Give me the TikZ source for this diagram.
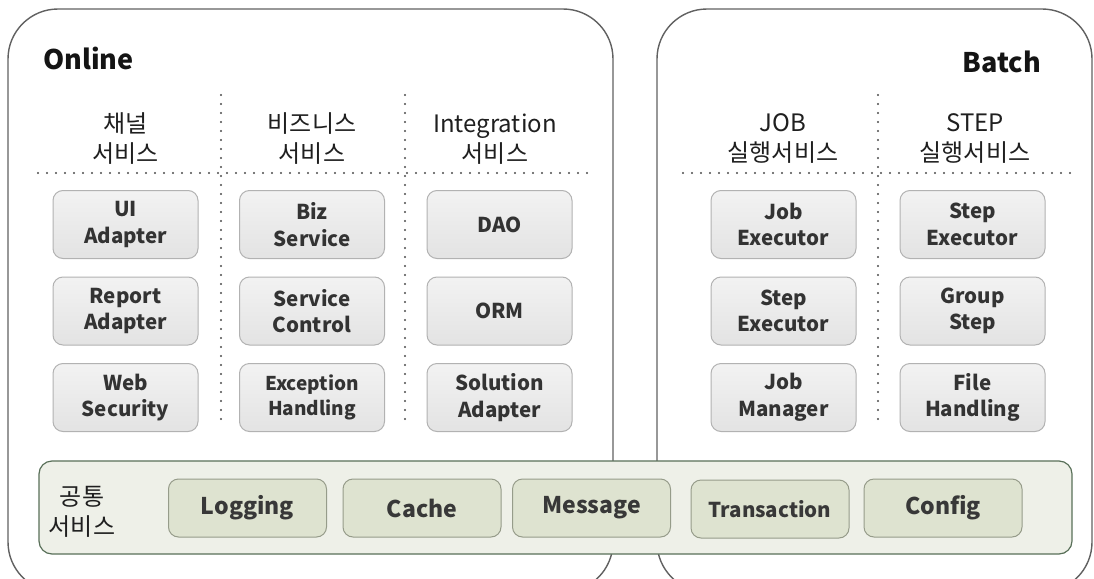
\documentclass[tikz,border=0pt]{standalone}
\usepackage{fontspec}
\setmainfont{Noto Sans CJK KR}
\begin{document}
\begin{tikzpicture}[x=1pt,y=-1pt,
  outerbox/.style={draw=black!62, line width=1.4pt, rounded corners=50pt, inner sep=0pt},
  compbox/.style={draw=black!30, line width=1pt, rounded corners=10pt, top color=black!5, bottom color=black!11,
     minimum width=145pt, minimum height=68pt, inner sep=0pt, align=center,
     font=\fontsize{20.5}{26.5}\selectfont\bfseries, text=black!80},
  bar/.style={draw=black!70!green!30!gray, line width=1.2pt, rounded corners=13pt, fill={rgb,255:red,238;green,240;blue,232},
     minimum width=1033pt, minimum height=93pt, inner sep=0pt},
  citem/.style={draw={rgb,255:red,150;green,156;blue,138}, line width=1pt, rounded corners=10pt,
     fill={rgb,255:red,222;green,227;blue,208}, minimum width=158pt, minimum height=58pt, inner sep=0pt,
     font=\fontsize{23}{27}\selectfont\bfseries, text=black!78},
  header/.style={align=center, font=\fontsize{24}{30}\selectfont, text=black!88, inner sep=0pt},
  title/.style={font=\fontsize{27}{30}\selectfont\bfseries, text=black!92, inner sep=0pt},
  dots/.style={draw=black!70, line width=2.2pt, line cap=round, dash pattern=on 0pt off 9pt}
]
\useasboundingbox (0,0) rectangle (1094,578);
\clip (0,0) rectangle (1094,578);
\fill[white] (0,0) rectangle (1094,578);

% outer boxes
\node[outerbox, minimum width=605pt, minimum height=583pt] (online) at (310.5,300.5) {};
\node[outerbox, minimum width=435pt, minimum height=583pt] (batch) at (874.5,300.5) {};

% titles
\node[title, anchor=west] (tonline) at (43,58) {Online};
\node[title, anchor=east] (tbatch) at (1041,62) {Batch};

% dotted separators
\draw[dots] (221,95) -- (221,425);
\draw[dots] (405,95) -- (405,425);
\draw[dots] (878,95) -- (878,425);
\draw[dots] (38,173) -- (590,173);
\draw[dots] (683,173) -- (1076,173);

% headers
\node[header] (h1) at (125.5,139) {채널\\서비스};
\node[header] (h2) at (312,139) {비즈니스\\서비스};
\node[header] (h3) at (495,139) {Integration\\서비스};
\node[header] (h4) at (783,138) {JOB\\실행서비스};
\node[header] (h5) at (975,138) {STEP\\실행서비스};

% online components
\node[compbox] (ui) at (125.5,224.5) {UI\\Adapter};
\node[compbox] (report) at (125.5,311) {Report\\Adapter};
\node[compbox] (web) at (125.5,397.5) {Web\\Security};
\node[compbox] (biz) at (312,224.5) {Biz\\Service};
\node[compbox] (svc) at (312,311) {Service\\Control};
\node[compbox, font=\fontsize{19}{25}\selectfont\bfseries] (exc) at (312,397.5) {Exception\\Handling};
\node[compbox] (dao) at (499.5,224.5) {DAO};
\node[compbox] (orm) at (499.5,311) {ORM};
\node[compbox] (sol) at (499.5,397.5) {Solution\\Adapter};

% batch components
\node[compbox] (jobexec) at (783.5,224.5) {Job\\Executor};
\node[compbox] (stepexec1) at (783.5,311) {Step\\Executor};
\node[compbox] (jobmgr) at (783.5,397.5) {Job\\Manager};
\node[compbox] (stepexec2) at (972.5,224.5) {Step\\Executor};
\node[compbox] (group) at (972.5,311) {Group\\Step};
\node[compbox] (file) at (972.5,397.5) {File\\Handling};

% common services bar
\node[bar] (common) at (555.5,507.5) {};
\node[header] (hcommon) at (82,512) {공통\\서비스};
\node[citem] (logging) at (247.5,508) {Logging};
\node[citem] (cache) at (422,508) {Cache};
\node[citem] (message) at (591.5,508) {Message};
\node[citem, font=\fontsize{20.5}{26}\selectfont\bfseries] (trans) at (770,509) {Transaction};
\node[citem] (config) at (943,508) {Config};
\end{tikzpicture}
\end{document}
